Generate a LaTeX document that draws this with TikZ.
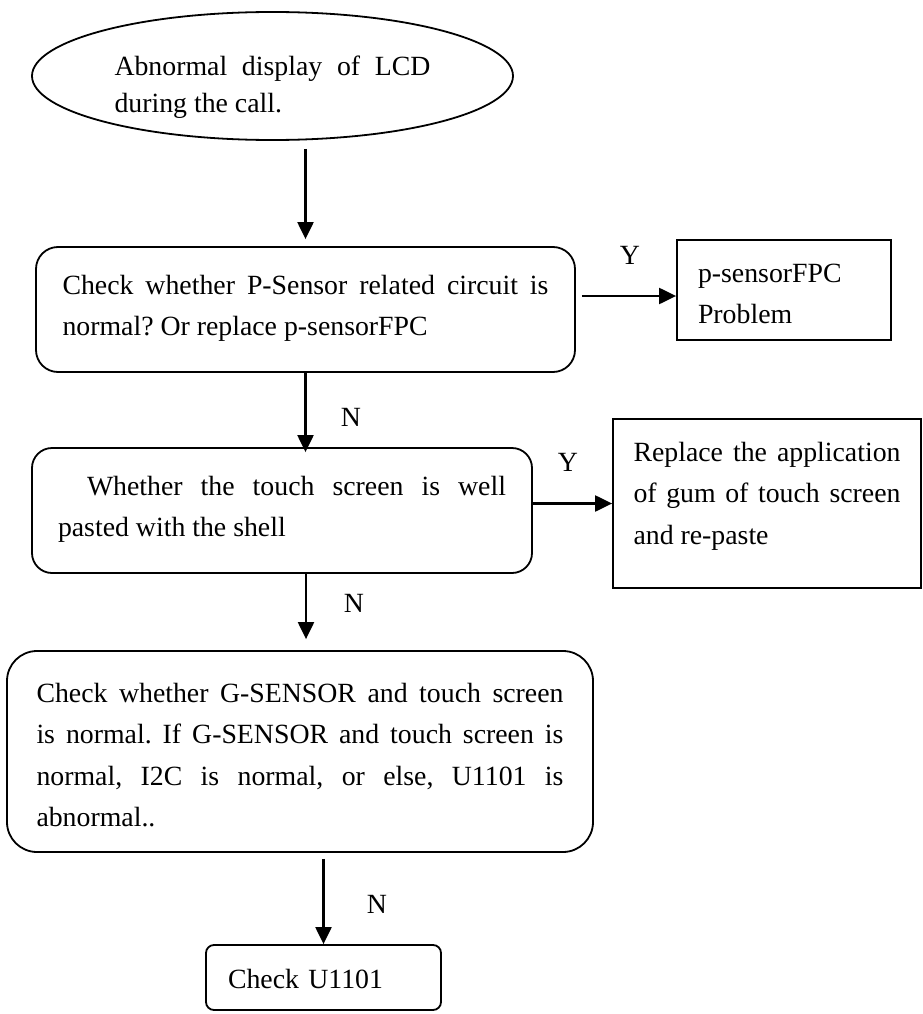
\documentclass[tikz,border=0pt]{standalone}
\usepackage{fontspec}
\setmainfont{Liberation Serif}
\usetikzlibrary{shapes.geometric,arrows.meta}
\frenchspacing

\begin{document}
\begin{tikzpicture}[x=1pt,y=-1pt,
  txt/.style={font=\fontsize{27.8}{41.5}\selectfont, inner sep=0pt},
  rbox/.style={txt, draw, line width=1.8pt, rounded corners=#1, align=justify},
  sbox/.style={txt, draw, line width=1.8pt},
  lbl/.style={font=\fontsize{27.8}{41.5}\selectfont, inner sep=0pt, anchor=base},
  arr/.style={line width=2.2pt, -{Triangle[length=17pt,width=16pt]}},
]
\useasboundingbox (0,0) rectangle (922,1014);

% start of the procedure
\node[ellipse, draw, line width=1.8pt, inner sep=0pt,
      minimum width=481pt, minimum height=128pt,
      font=\fontsize{27.8}{37}\selectfont, text width=316pt, align=justify,
      text height=44pt, text depth=45pt] (start) at (272.5,76)
  {Abnormal display of LCD\linebreak during the call.};

% P-sensor check
\node[rbox=22pt, minimum width=539pt, minimum height=125pt, text width=486pt,
      text height=18.5pt, text depth=49.5pt] (psens) at (305.5,309.5)
  {Check whether P-Sensor related circuit is\linebreak normal? Or replace p-sensorFPC};

\node[sbox, minimum width=214pt, minimum height=100pt, text width=172pt, align=left,
      text height=33.5pt, text depth=49.5pt] (fpc) at (784,290)
  {p-sensorFPC\\Problem};

% touch screen pasting
\node[rbox=20pt, minimum width=500pt, minimum height=125pt, text width=448pt,
      text height=18.5pt, text depth=49.5pt] (touch) at (282,510.5)
  {\hspace*{29pt}Whether the touch screen is well\linebreak pasted with the shell};

\node[sbox, minimum width=308pt, minimum height=169pt, text width=267pt, align=justify,
      text height=6pt, text depth=91pt] (gum) at (767,503.5)
  {Replace the application\linebreak of gum of touch screen\linebreak and re-paste};

% G-sensor / I2C check
\node[rbox=30pt, minimum width=586pt, minimum height=201pt, text width=527pt,
      text height=33.5pt, text depth=132.5pt] (gsens) at (300,751.5)
  {Check whether G-SENSOR and touch screen\linebreak is normal. If G-SENSOR and touch screen is\linebreak normal, I2C is normal, or else, U1101 is\linebreak abnormal..};

\node[rbox=8pt, align=left, minimum width=235pt, minimum height=65pt, text width=191pt,
      text height=29pt, text depth=8pt] (chk) at (323.5,977.5)
  {Check U1101};

% connectors
\coordinate (fpcin) at ([yshift=-6pt]fpc.west);
\coordinate (n2) at ([xshift=6pt]gsens.north);

\draw[arr, shorten <=8pt, shorten >=7pt] (start.south -| psens.north) -- (psens.north);
\draw[arr, shorten <=6pt] (psens.east |- fpcin) -- (fpcin);
\draw[arr, shorten >=-5pt] (psens.south) -- (psens.south |- touch.north);
\draw[arr] (touch.east |- gum.west) -- (gum.west);
\draw[arr, shorten >=11pt] (n2 |- touch.south) -- (n2);
\draw[arr, shorten <=6pt] (chk.north |- gsens.south) -- (chk.north);

% branch labels
\node[lbl] (ly1) at (630,264) {Y};
\node[lbl] (ly2) at (568,471) {Y};
\node[lbl] (ln1) at (351,426) {N};
\node[lbl] (ln2) at (354,612) {N};
\node[lbl] (ln3) at (377,913) {N};
\end{tikzpicture}
\end{document}
